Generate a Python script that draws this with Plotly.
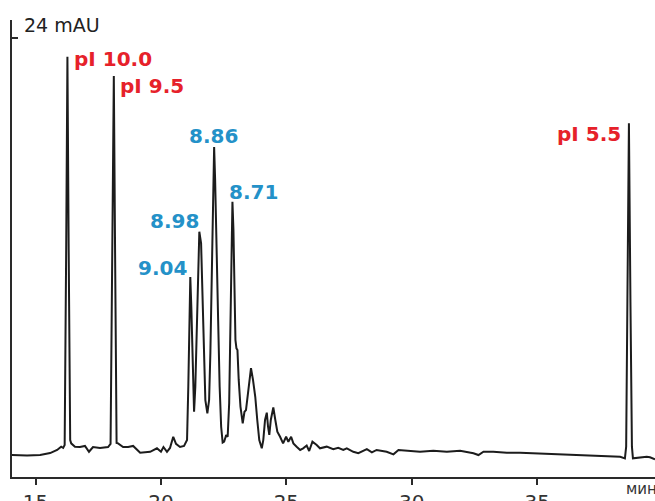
import plotly.graph_objects as go

# Retention time (min) and absorbance (mAU)
time_min = [
    14.05, 14.66, 15.18, 15.58, 15.86, 16.02, 16.10, 16.16, 16.22, 16.27,
    16.32, 16.38, 16.42, 16.57, 16.77, 16.97, 17.13, 17.29, 17.57, 17.89,
    17.99, 18.07, 18.12, 18.17, 18.23, 18.29, 18.49, 18.69, 18.89, 19.17,
    19.57, 19.84, 20.00, 20.10, 20.24, 20.36, 20.49, 20.60, 20.76, 20.92,
    21.04, 21.09, 21.17, 21.21, 21.25, 21.32, 21.37, 21.44, 21.49, 21.53,
    21.60, 21.65, 21.72, 21.77, 21.85, 21.92, 21.97, 22.03, 22.08, 22.12,
    22.16, 22.21, 22.28, 22.34, 22.40, 22.46, 22.52, 22.60, 22.66, 22.72,
    22.77, 22.81, 22.85, 22.89, 22.93, 22.97, 23.01, 23.05, 23.10, 23.17,
    23.26, 23.33, 23.39, 23.47, 23.55, 23.59, 23.67, 23.76, 23.84, 23.92,
    24.02, 24.08, 24.15, 24.22, 24.27, 24.32, 24.38, 24.48, 24.56, 24.64,
    24.75, 24.87, 24.99, 25.08, 25.19, 25.28, 25.41, 25.55, 25.67, 25.81,
    25.91, 26.04, 26.21, 26.34, 26.61, 26.87, 27.07, 27.27, 27.41, 27.67,
    27.87, 28.21, 28.41, 28.60, 29.00, 29.27, 29.47, 29.80, 30.33, 30.86,
    31.40, 31.93, 32.19, 32.46, 32.66, 32.86, 33.25, 33.79, 34.32, 34.85,
    35.12, 35.91, 36.71, 37.51, 38.31, 38.50, 38.55, 38.60, 38.66, 38.72,
    38.78, 38.82, 39.10, 39.37, 39.50, 39.70,
]
absorbance_mau = [
    1.20, 1.17, 1.20, 1.31, 1.48, 1.66, 1.59, 1.75, 12.42, 22.99,
    12.42, 2.02, 1.84, 1.66, 1.64, 1.70, 1.38, 1.64, 1.59, 1.64,
    1.81, 12.42, 21.93, 12.42, 1.86, 1.84, 1.64, 1.64, 1.70, 1.33,
    1.38, 1.57, 1.38, 1.64, 1.38, 1.59, 2.20, 1.81, 1.64, 1.70,
    2.02, 4.94, 10.94, 9.32, 6.78, 3.57, 4.94, 9.32, 12.60, 13.42,
    12.78, 10.41, 6.77, 4.21, 3.48, 4.21, 6.78, 11.32, 15.88, 18.05,
    16.25, 12.25, 8.59, 4.94, 2.75, 1.88, 1.93, 2.30, 2.20, 4.05,
    8.59, 12.25, 15.06, 13.51, 10.41, 7.49, 7.04, 6.95, 5.31, 3.85,
    2.94, 3.57, 3.66, 4.58, 5.67, 5.95, 5.31, 4.39, 3.12, 2.02,
    1.57, 2.02, 3.12, 3.52, 2.75, 2.30, 3.12, 3.81, 3.12, 2.48,
    2.20, 1.84, 2.20, 1.93, 2.20, 1.84, 1.66, 1.48, 1.57, 1.72,
    1.42, 1.93, 1.75, 1.57, 1.66, 1.52, 1.60, 1.48, 1.57, 1.38,
    1.30, 1.52, 1.35, 1.48, 1.38, 1.24, 1.48, 1.44, 1.38, 1.44,
    1.38, 1.44, 1.38, 1.30, 1.20, 1.38, 1.38, 1.33, 1.33, 1.30,
    1.30, 1.26, 1.20, 1.15, 1.11, 1.02, 1.66, 9.68, 19.35, 9.68,
    1.66, 1.02, 1.08, 1.11, 1.08, 0.97,
]

# Axis ticks
x_tick_values = [15, 20, 25, 30, 35]
y_tick_values = [24]
y_tick_caption = "24 mAU"
x_unit = "мин"

# Peak labels: pI markers (red) and sample pI values (blue)
marker_labels = ["pI 10.0", "pI 9.5", "pI 5.5"]
marker_label_t = [16.45, 18.30, 35.70]
marker_label_v = [22.85, 21.40, 18.75]

sample_labels = ["8.86", "8.71", "8.98", "9.04"]
sample_label_t = [21.05, 22.65, 19.50, 18.99]
sample_label_v = [18.65, 15.60, 14.00, 11.45]

RED = "#e6212a"
BLUE = "#2491c8"
INK = "#1c1c1c"

fig = go.Figure()
fig.add_trace(go.Scatter(
    x=time_min, y=absorbance_mau, mode="lines",
    line=dict(color=INK, width=2), hoverinfo="x+y", showlegend=False,
))

annotations = []
for txt, t, v in zip(marker_labels, marker_label_t, marker_label_v):
    annotations.append(dict(
        x=t, y=v, xref="x", yref="y", text=txt, showarrow=False,
        xanchor="left", yanchor="middle",
        font=dict(family="DejaVu Sans", size=20, color=RED, weight="bold"),
    ))
for txt, t, v in zip(sample_labels, sample_label_t, sample_label_v):
    annotations.append(dict(
        x=t, y=v, xref="x", yref="y", text=txt, showarrow=False,
        xanchor="left", yanchor="middle",
        font=dict(family="DejaVu Sans", size=20, color=BLUE, weight="bold"),
    ))
annotations.append(dict(
    x=14.45, y=24.75, xref="x", yref="y", text=y_tick_caption, showarrow=False,
    xanchor="left", yanchor="middle",
    font=dict(family="DejaVu Sans", size=19, color="#222222"),
))
annotations.append(dict(
    x=0.952, y=-0.026, xref="paper", yref="paper", text=x_unit, showarrow=False,
    xanchor="left", yanchor="middle",
    font=dict(family="DejaVu Sans", size=15, color="#333333"),
))

fig.update_layout(
    width=655, height=501,
    margin=dict(l=12, r=0, t=20, b=24, autoexpand=False),
    paper_bgcolor="white", plot_bgcolor="white",
    annotations=annotations,
    xaxis=dict(
        range=[14.06, 39.70], tickvals=x_tick_values, automargin=False,
        showline=True, linecolor="#2a2a2a", linewidth=2,
        ticks="outside", ticklen=6, tickwidth=1.5, tickcolor="#2a2a2a",
        showgrid=False, zeroline=False,
        tickfont=dict(family="DejaVu Sans", size=20, color="#333333"),
    ),
    yaxis=dict(
        range=[0, 25], tickvals=y_tick_values, showticklabels=False,
        automargin=False,
        showline=True, linecolor="#2a2a2a", linewidth=2,
        ticks="inside", ticklen=6, tickwidth=1.5, tickcolor="#2a2a2a",
        showgrid=False, zeroline=False,
    ),
)

fig.write_html(
    "out.html",
    config={"displayModeBar": False},
    post_script="document.body.style.margin='0px'; document.body.style.overflow='hidden';",
)
